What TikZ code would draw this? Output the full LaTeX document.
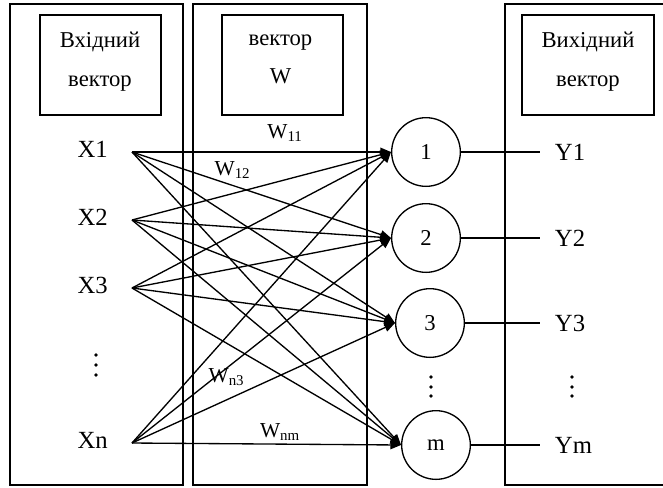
\documentclass[tikz,border=0pt]{standalone}
\usepackage{fontspec}
\setmainfont{Liberation Serif}
\usetikzlibrary{positioning, arrows.meta}

\begin{document}
\begin{tikzpicture}[
  x=0.75pt, y=-0.75pt,
  >={Triangle[length=8pt, width=6.5pt]},
  frame/.style={draw, line width=1pt},
  hdr/.style={draw, line width=1pt, minimum width=90.75pt, minimum height=75pt, inner sep=0pt},
  htxt/.style={anchor=base, inner sep=0pt, font=\fontsize{17}{20}\selectfont},
  neuron/.style={draw, circle, line width=1pt, minimum size=51.5pt, inner sep=0pt, font=\fontsize{17}{20}\selectfont},
  sig/.style={inner sep=0pt, font=\fontsize{18.5}{22}\selectfont},
  wgt/.style={anchor=base, inner sep=0pt, font=\fontsize{16}{19}\selectfont},
  line/.style={->, line width=1pt},
  wire/.style={line width=1pt}
]
\useasboundingbox (0,0) rectangle (663,487);

% Columns
\draw[frame] (10,4) rectangle (183,485);
\draw[frame] (193,4) rectangle (367,485);
\draw[frame] (700,4) -| (505,485) -- (700,485);

% Column headers
\node[hdr] (hin) at (100.5,65) {};
\node[hdr] (hw) at (282.5,65) {};
\node[hdr, minimum width=99pt] (hout) at (588,65) {};

\node[htxt] (hin1) at (100,47) {Вхідний};
\node[htxt] (hin2) at (100,86) {вектор};
\node[htxt] (hw1) at (280.5,45) {вектор};
\node[htxt] (hw2) at (280.5,83) {W};
\node[htxt] (hout1) at (588,47) {Вихідний};
\node[htxt] (hout2) at (588,86) {вектор};

% Inputs
\coordinate (s1) at (132,152);
\coordinate (s2) at (132,220);
\coordinate (s3) at (132,288);
\coordinate (sn) at (132,443);

\node[sig, left=18pt of s1, yshift=2pt] (x1) {X1};
\node[sig, left=18pt of s2, yshift=2pt] (x2) {X2};
\node[sig, left=18pt of s3, yshift=2pt] (x3) {X3};
\node[sig, left=18pt of sn, yshift=2pt] (xn) {Xn};
\foreach \y in {355,365,375} \fill (96,\y) circle (1.4pt);

% Neurons
\node[neuron] (n1) at (426,152) {1};
\node[neuron] (n2) at (426,238) {2};
\node[neuron] (n3) at (430,323) {3};
\node[neuron] (nm) at (436,445) {m};
\foreach \y in {377,387,396} \fill (431,\y) circle (1.4pt);

% Weights: every input to every neuron
\foreach \s in {s1,s2,s3,sn}
  \foreach \n in {n1,n2,n3,nm}
    \draw[line] (\s) -- (\n.west);

\node[wgt] (w11) at (285,138) {W\textsubscript{11}};
\node[wgt] (w12) at (232.5,175) {W\textsubscript{12}};
\node[wgt] (wn3) at (226.5,382) {W\textsubscript{n3}};
\node[wgt] (wnm) at (280,437) {W\textsubscript{nm}};

% Outputs
\coordinate (e1) at (540,152);
\coordinate (e2) at (540,238);
\coordinate (e3) at (540,323);
\coordinate (em) at (540,445);

\draw[wire] (n1) -- (e1);
\draw[wire] (n2) -- (e2);
\draw[wire] (n3) -- (e3);
\draw[wire] (nm) -- (em);

\node[sig, right=11pt of e1] (y1) {Y1};
\node[sig, right=11pt of e2] (y2) {Y2};
\node[sig, right=11pt of e3] (y3) {Y3};
\node[sig, right=11pt of em] (ym) {Ym};
\foreach \y in {377,387,396} \fill (572,\y) circle (1.4pt);

\end{tikzpicture}
\end{document}
